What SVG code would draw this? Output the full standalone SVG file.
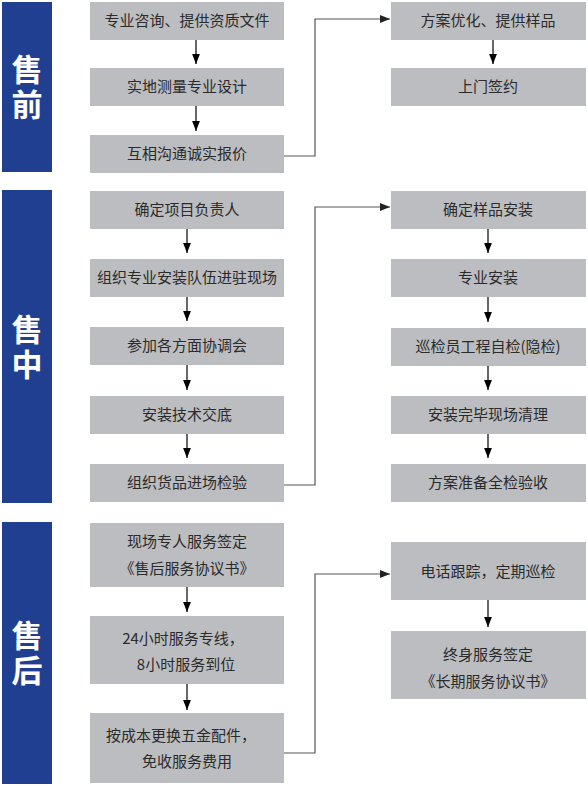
<svg xmlns="http://www.w3.org/2000/svg" width="588" height="786" viewBox="0 0 588 786">
<defs>
<style>
.box{fill:#bcbdc0}
.bar{fill:#213f91}
.t{font-family:"Noto Sans CJK SC","Noto Sans",sans-serif;font-size:15px;fill:#2b2b2b;text-anchor:middle}
.h{font-family:"Noto Sans CJK SC","Noto Sans",sans-serif;font-size:31px;font-weight:bold;fill:#ffffff;text-anchor:middle;writing-mode:vertical-rl;letter-spacing:4px}
.a{stroke:#000;stroke-width:1.2;fill:none}
.c{stroke:#555;stroke-width:1.2;fill:none}
</style>
<marker id="ah" markerUnits="userSpaceOnUse" markerWidth="10" markerHeight="8" refX="9" refY="3.5" orient="auto" viewBox="0 0 9 7">
<path d="M0,0 L9,3.5 L0,7 Z" fill="#000"/>
</marker>
<marker id="ahr" markerUnits="userSpaceOnUse" markerWidth="10" markerHeight="8" refX="9" refY="3.5" orient="auto" viewBox="0 0 9 7">
<path d="M0,0 L9,3.5 L0,7 Z" fill="#222"/>
</marker>
</defs>

<g id="bar-pre"><rect class="bar" x="2" y="2" width="50" height="170"/><text class="h" x="27" y="89">售前</text></g>
<g id="bar-mid"><rect class="bar" x="2" y="190" width="50" height="313"/><text class="h" x="27" y="349">售中</text></g>
<g id="bar-post"><rect class="bar" x="2" y="522" width="50" height="262"/><text class="h" x="27" y="655">售后</text></g>

<g id="n1"><rect class="box" x="90" y="2" width="194" height="38"/><text class="t" x="187" y="26">专业咨询、提供资质文件</text></g>
<g id="n2"><rect class="box" x="90" y="68" width="194" height="38"/><text class="t" x="187" y="92">实地测量专业设计</text></g>
<g id="n3"><rect class="box" x="90" y="135" width="194" height="38"/><text class="t" x="187" y="159">互相沟通诚实报价</text></g>
<g id="n4"><rect class="box" x="391" y="2" width="195" height="38"/><text class="t" x="488" y="26">方案优化、提供样品</text></g>
<g id="n5"><rect class="box" x="391" y="68" width="195" height="38"/><text class="t" x="488" y="92">上门签约</text></g>

<g id="n6"><rect class="box" x="90" y="191" width="194" height="38"/><text class="t" x="187" y="215">确定项目负责人</text></g>
<g id="n7"><rect class="box" x="90" y="259" width="194" height="38"/><text class="t" x="187" y="283">组织专业安装队伍进驻现场</text></g>
<g id="n8"><rect class="box" x="90" y="327" width="194" height="38"/><text class="t" x="187" y="351">参加各方面协调会</text></g>
<g id="n9"><rect class="box" x="90" y="396" width="194" height="38"/><text class="t" x="187" y="420">安装技术交底</text></g>
<g id="n10"><rect class="box" x="90" y="464" width="194" height="38"/><text class="t" x="187" y="488">组织货品进场检验</text></g>
<g id="n11"><rect class="box" x="391" y="191" width="195" height="38"/><text class="t" x="488" y="215">确定样品安装</text></g>
<g id="n12"><rect class="box" x="391" y="259" width="195" height="38"/><text class="t" x="488" y="283">专业安装</text></g>
<g id="n13"><rect class="box" x="391" y="328" width="195" height="38"/><text class="t" x="488" y="352">巡检员工程自检(隐检)</text></g>
<g id="n14"><rect class="box" x="391" y="396" width="195" height="38"/><text class="t" x="488" y="420">安装完毕现场清理</text></g>
<g id="n15"><rect class="box" x="391" y="464" width="195" height="38"/><text class="t" x="488" y="488">方案准备全检验收</text></g>

<g id="n16"><rect class="box" x="90" y="523" width="194" height="64"/><text class="t" x="187" y="547">现场专人服务签定</text><text class="t" x="187" y="574">《售后服务协议书》</text></g>
<g id="n17"><rect class="box" x="90" y="616" width="194" height="68"/><text class="t" x="183" y="644">24小时服务专线，</text><text class="t" x="186" y="670">8小时服务到位</text></g>
<g id="n18"><rect class="box" x="90" y="713" width="194" height="70"/><text class="t" x="181" y="741">按成本更换五金配件，</text><text class="t" x="187" y="767">免收服务费用</text></g>
<g id="n19"><rect class="box" x="391" y="542" width="195" height="58"/><text class="t" x="488" y="577">电话跟踪，定期巡检</text></g>
<g id="n20"><rect class="box" x="391" y="631" width="195" height="68"/><text class="t" x="488" y="660">终身服务签定</text><text class="t" x="488" y="687">《长期服务协议书》</text></g>

<g id="connectors">
<path class="a" d="M196,40 V64" marker-end="url(#ah)"/>
<path class="a" d="M196,106 V131" marker-end="url(#ah)"/>
<path class="a" d="M493,40 V64" marker-end="url(#ah)"/>
<path class="c" d="M284,156 H315 V19 H390" marker-end="url(#ahr)"/>

<path class="a" d="M187,229 V253" marker-end="url(#ah)"/>
<path class="a" d="M187,297 V321" marker-end="url(#ah)"/>
<path class="a" d="M187,365 V390" marker-end="url(#ah)"/>
<path class="a" d="M187,434 V458" marker-end="url(#ah)"/>
<path class="a" d="M488,229 V253" marker-end="url(#ah)"/>
<path class="a" d="M488,297 V322" marker-end="url(#ah)"/>
<path class="a" d="M488,366 V390" marker-end="url(#ah)"/>
<path class="a" d="M488,434 V458" marker-end="url(#ah)"/>
<path class="c" d="M284,485 H315 V207 H390" marker-end="url(#ahr)"/>

<path class="a" d="M187,587 V612" marker-end="url(#ah)"/>
<path class="a" d="M187,684 V710" marker-end="url(#ah)"/>
<path class="a" d="M488,600 V627" marker-end="url(#ah)"/>
<path class="c" d="M284,753 H315 V574 H390" marker-end="url(#ahr)"/>
</g>
</svg>
